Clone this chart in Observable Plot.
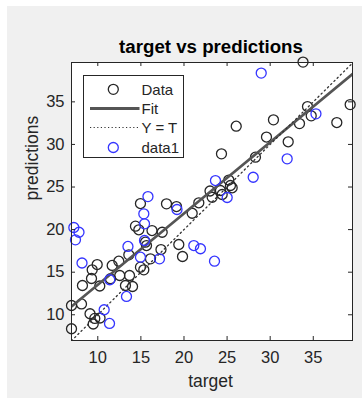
<!DOCTYPE html>
<html>
<head>
<meta charset="utf-8">
<script src="https://cdn.jsdelivr.net/npm/d3@7"></script>
<script src="https://cdn.jsdelivr.net/npm/@observablehq/plot@0.6"></script>
<style>
  html, body { margin: 0; padding: 0; background: #ffffff; }
  #fig { position: relative; width: 362px; height: 411px; overflow: hidden;
         font-family: "Liberation Sans", Arial, Helvetica, sans-serif; }
  #panel { position: absolute; left: 7px; top: 6px; width: 355px; height: 392px; background: #f0f0f0; }
  #chart { position: absolute; left: 0; top: 0; }
  #legend { position: absolute; left: 83px; top: 75px; width: 101px; height: 83px; box-sizing: border-box;
            border: 1px solid #262626; background: #ffffff; }
  #legend svg { display: block; }
</style>
</head>
<body>
<div id="fig">
  <div id="panel"></div>
  <div id="chart"></div>
  <div id="legend"></div>
</div>
<script>
// Training data: target value vs model prediction
const targetData = [6.95, 8.11, 6.95, 9.10, 9.65, 10.26, 9.47, 8.22, 9.27, 10.23,
                    9.35, 9.93, 11.67, 12.44, 12.55, 13.68, 11.47, 13.21, 14.03, 13.60,
                    14.95, 15.34, 16.11, 14.37, 14.76, 14.95, 16.29, 17.47, 15.53, 15.65,
                    17.33, 19.40, 19.83, 17.97, 19.13, 21.72, 20.95, 23.02, 24.23, 25.20,
                    25.39, 25.59, 23.27, 24.43, 24.35, 28.29, 26.06, 30.38, 29.57, 32.09,
                    33.40, 34.33, 34.76, 37.73, 39.28, 33.81];
const predData   = [11.09, 11.27, 8.36, 10.12, 9.57, 9.62, 8.92, 13.44, 14.26, 13.38,
                    15.28, 15.90, 15.79, 16.29, 14.61, 14.61, 14.23, 13.44, 13.32, 17.04,
                    15.59, 15.28, 16.57, 20.40, 19.98, 23.06, 19.89, 19.69, 18.52, 18.13,
                    17.66, 18.25, 16.84, 23.03, 22.71, 23.15, 21.92, 24.53, 24.59, 25.82,
                    25.18, 24.91, 23.80, 24.12, 28.90, 28.50, 32.14, 32.89, 30.87, 30.31,
                    32.45, 34.45, 33.36, 32.57, 34.68, 39.67];

// Second series (data1)
const target1 = [7.22, 7.82, 7.41, 8.17, 10.74, 11.36, 11.39, 13.33, 13.50, 14.95,
                 15.42, 15.42, 15.34, 15.82, 17.16, 19.19, 21.14, 21.91, 23.54, 23.65,
                 25.01, 28.03, 31.97, 35.31, 28.96];
const pred1   = [20.25, 19.69, 18.80, 16.08, 10.59, 8.98, 14.11, 12.15, 18.02, 16.76,
                 18.72, 20.68, 21.85, 23.88, 16.57, 22.36, 18.13, 17.75, 16.29, 25.76,
                 23.77, 26.15, 28.31, 33.59, 38.38];

// Linear fit of predictions on target
const fitSlope = 0.837;
const fitIntercept = 5.15;

const xTicks = [10, 15, 20, 25, 30, 35];
const yTicks = [10, 15, 20, 25, 30, 35];
const xDomain = [6.95, 39.55];
const yDomain = [6.98, 39.62];

const legendItems = ["Data", "Fit", "Y = T", "data1"];

const W = 362, H = 411;
const M = {top: 62, right: 10, bottom: 71, left: 71};
const innerW = W - M.left - M.right;
const innerH = H - M.top - M.bottom;
const tickLen = 4;

const ink = "#262626";
const dataColor = "#262626";
const data1Color = "#3535ff";
const fitColor = "#555555";

const dataRows = targetData.map((t, i) => ({t, p: predData[i]}));
const data1Rows = target1.map((t, i) => ({t, p: pred1[i]}));
const fitRows = xDomain.map(t => ({t, p: fitIntercept + fitSlope * t}));
const identityRows = xDomain.map(t => ({t, p: t}));

const chart = Plot.plot({
  width: W,
  height: H,
  marginTop: M.top,
  marginRight: M.right,
  marginBottom: M.bottom,
  marginLeft: M.left,
  style: {fontFamily: "Liberation Sans, Arial, sans-serif", fontSize: "16.5px", color: ink, background: "transparent", overflow: "visible"},
  x: {domain: xDomain, label: null},
  y: {domain: yDomain, label: null},
  marks: [
    Plot.frame({fill: "#ffffff", stroke: "none"}),
    Plot.dot(dataRows, {x: "t", y: "p", r: 5, stroke: dataColor, strokeWidth: 1.3, fill: "none"}),
    Plot.line(fitRows, {x: "t", y: "p", stroke: fitColor, strokeWidth: 2.7, clip: true}),
    Plot.line(identityRows, {x: "t", y: "p", stroke: "#333333", strokeWidth: 1.3, strokeDasharray: "1.3,3.2", clip: true}),
    Plot.dot(data1Rows, {x: "t", y: "p", r: 5, stroke: data1Color, strokeWidth: 1.3, fill: "none"}),
    // inward ticks on all four sides
    Plot.tickX(xTicks, {x: d => d, stroke: ink, insetTop: innerH - tickLen}),
    Plot.tickX(xTicks, {x: d => d, stroke: ink, insetBottom: innerH - tickLen}),
    Plot.tickY(yTicks, {y: d => d, stroke: ink, insetRight: innerW - tickLen}),
    Plot.tickY(yTicks, {y: d => d, stroke: ink, insetLeft: innerW - tickLen}),
    Plot.frame({stroke: ink, strokeWidth: 1}),
    Plot.axisX(xTicks, {anchor: "bottom", tickSize: 0, tickPadding: 11, label: null, fill: ink}),
    Plot.axisY(yTicks, {anchor: "left", tickSize: 0, tickPadding: 7, label: null, fill: ink}),
    Plot.text(["target vs predictions"], {frameAnchor: "top", lineAnchor: "bottom", dy: -9.5, dx: -1,
      fontSize: 18.7, fontWeight: "bold", fill: "#000000"}),
    Plot.text(["target"], {frameAnchor: "bottom", lineAnchor: "bottom", dy: 46, dx: -1.5,
      fontSize: 17.5, fill: ink}),
    Plot.text(["predictions"], {frameAnchor: "left", lineAnchor: "bottom", rotate: -90, dx: -34, dy: -1,
      fontSize: 17.5, fill: ink})
  ]
});
document.getElementById("chart").appendChild(chart);

// Legend box
const lw = 99, lh = 81;
const rowY = [13.3, 32.5, 51.5, 71.5];
const lsvg = d3.select("#legend").append("svg").attr("width", lw).attr("height", lh);
legendItems.forEach((name, i) => {
  const y = rowY[i];
  if (i === 0 || i === 3) {
    lsvg.append("circle").attr("cx", 29.3).attr("cy", y).attr("r", 5)
      .attr("fill", "none").attr("stroke", i === 0 ? dataColor : data1Color).attr("stroke-width", 1.3);
  } else if (i === 1) {
    lsvg.append("line").attr("x1", 6).attr("x2", 55.5).attr("y1", y).attr("y2", y)
      .attr("stroke", fitColor).attr("stroke-width", 2.8);
  } else {
    lsvg.append("line").attr("x1", 6).attr("x2", 55.5).attr("y1", y).attr("y2", y)
      .attr("stroke", "#333333").attr("stroke-width", 1.2).attr("stroke-dasharray", "1.2,2.4");
  }
  lsvg.append("text").attr("x", 57.5).attr("y", y).attr("dy", "0.36em")
    .attr("font-family", "Liberation Sans, Arial, sans-serif").attr("font-size", 15)
    .attr("fill", ink).text(name);
});
</script>
</body>
</html>
